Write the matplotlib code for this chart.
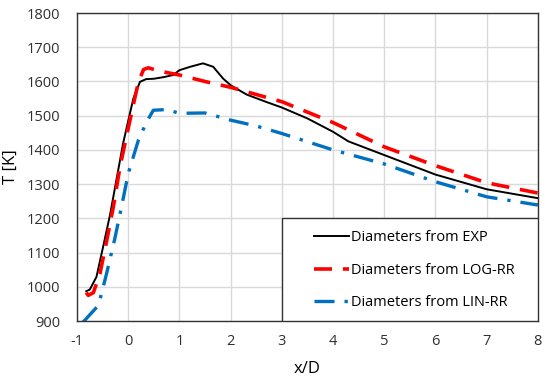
import numpy as np
import matplotlib.pyplot as plt
from matplotlib.patches import Rectangle

plt.rcParams['font.family'] = ['Open Sans', 'DejaVu Sans']
plt.rcParams['axes.unicode_minus'] = False

x_exp = [-0.82, -0.75, -0.62, -0.49, -0.35, -0.22, -0.1, 0.0, 0.1, 0.23, 0.35, 0.5, 0.7, 0.88,
         1.0, 1.21, 1.46, 1.66, 1.85, 2.0, 2.31, 2.7, 3.0, 3.5, 4.0, 4.3, 5.0, 6.0, 7.0, 8.0]
t_exp = [987, 992, 1029, 1117, 1214, 1321, 1419, 1485, 1550, 1599, 1607, 1608, 1613, 1619,
         1633, 1643, 1653, 1643, 1609, 1589, 1562, 1540, 1524, 1492, 1453, 1425, 1385, 1328, 1285, 1259]

x_log = [-0.82, -0.78, -0.68, -0.55, -0.42, -0.29, -0.16, 0.0, 0.1, 0.2, 0.3, 0.39, 0.62,
         1.0, 1.5, 2.0, 3.0, 4.0, 5.0, 6.0, 7.0, 8.0]
t_log = [983, 975, 983, 1040, 1135, 1234, 1351, 1463, 1532, 1599, 1635, 1640, 1630,
         1619, 1600, 1583, 1541, 1480, 1409, 1354, 1304, 1274]

x_lin = [-0.88, -0.58, -0.42, -0.26, -0.13, 0.0, 0.2, 0.36, 0.49, 0.75,
         1.0, 1.5, 2.0, 2.5, 3.0, 4.0, 5.0, 6.0, 7.0, 8.0]
t_lin = [897, 946, 1040, 1142, 1234, 1331, 1429, 1482, 1516, 1518,
         1507, 1508, 1487, 1470, 1448, 1400, 1359, 1307, 1263, 1239]

fig, ax = plt.subplots(figsize=(5.5, 3.84), dpi=100)
fig.subplots_adjust(left=0.14, right=0.978, top=0.966, bottom=0.164)

ax.plot(x_exp, t_exp, color='black', lw=1.4, label='Diameters from EXP')
ax.plot(x_log, t_log, color='#FF0000', lw=2.6, dashes=(5, 3), label='Diameters from LOG-RR')
ax.plot(x_lin, t_lin, color='#0070C0', lw=2.4, dashes=(6, 3, 1, 3), label='Diameters from LIN-RR')

ax.set_xlim(-1, 8)
ax.set_ylim(900, 1800)
ax.set_xticks(range(-1, 9))
ax.set_yticks(range(900, 1801, 100))
ax.grid(True, color='#D9D9D9', lw=1)
ax.set_axisbelow(True)
ax.tick_params(length=0, labelsize=10.5, colors='#303030')
ax.tick_params(axis='x', pad=9)
ax.tick_params(axis='y', pad=12)
for s in ax.spines.values():
    s.set_color('#333333')
    s.set_linewidth(1)

ax.set_xlabel('x/D', fontsize=12, labelpad=9)
ax.set_ylabel('T [K]', fontsize=12, labelpad=6)

# legend box in lower right, touching the axes frame
ax.add_patch(Rectangle((0.445, 0), 0.555, 0.334, transform=ax.transAxes, facecolor='white',
                       edgecolor='#333333', lw=1, zorder=4))
leg = ax.legend(loc='center', bbox_to_anchor=(0.732, 0.165), frameon=False,
                fontsize=10.5, handlelength=2.4, handletextpad=0.1, labelspacing=1.2)
leg.set_zorder(5)

fig.savefig('out.png')
